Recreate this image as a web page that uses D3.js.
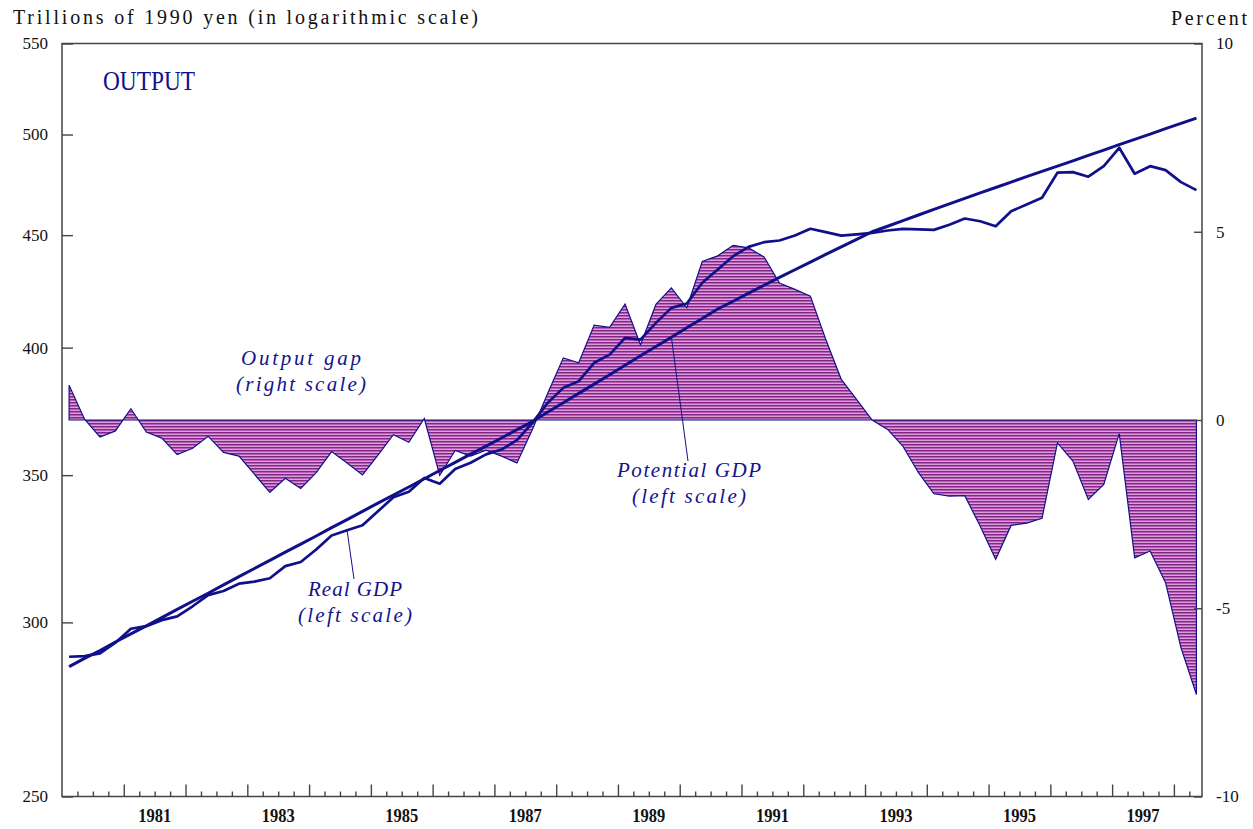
<!DOCTYPE html>
<html>
<head>
<meta charset="utf-8">
<script src="https://cdn.jsdelivr.net/npm/d3@7"></script>
<style>
  body { margin: 0; background: #fff; }
  svg { display: block; }
  text { font-family: "Liberation Serif", "DejaVu Serif", serif; }
  .axis text { font-size: 17px; fill: #111; }
  .axis line { stroke: #444; stroke-width: 1.4; }
  .years text { font-size: 19px; font-weight: bold; fill: #111; }
  .note { fill: #14148c; font-style: italic; font-size: 21px; }
</style>
</head>
<body>
<svg id="chart" width="1253" height="829"></svg>
<script>
// quarterly, 1980Q1 .. 1998Q2
const startYear = 1980;

const outputGap = [
  0.92, 0.02, -0.45, -0.29, 0.30, -0.32, -0.48, -0.92, -0.75, -0.43,
  -0.86, -0.96, -1.44, -1.92, -1.55, -1.82, -1.40, -0.84, -1.14, -1.46,
  -0.93, -0.39, -0.59, 0.04, -1.47, -0.81, -0.96, -0.80, -0.96, -1.14,
  -0.25, 0.72, 1.65, 1.52, 2.52, 2.46, 3.08, 2.00, 3.07, 3.51,
  2.98, 4.21, 4.36, 4.64, 4.57, 4.33, 3.64, 3.47, 3.29, 2.14,
  1.08, 0.54, 0.00, -0.25, -0.70, -1.40, -1.96, -2.02, -2.01, -2.82,
  -3.70, -2.80, -2.74, -2.61, -0.61, -1.09, -2.11, -1.71, -0.36, -3.66,
  -3.48, -4.32, -6.05, -7.29
];

const realGdp = [
  289.4, 289.6, 290.4, 293.7, 298.0, 298.8, 300.7, 301.9, 305.1, 308.7,
  310.0, 312.4, 313.1, 314.2, 318.2, 319.6, 323.8, 328.6, 330.4, 332.1,
  337.0, 342.0, 344.0, 349.0, 346.9, 352.3, 354.6, 357.7, 359.5, 363.1,
  369.7, 377.6, 383.5, 386.2, 393.7, 397.1, 404.1, 403.4, 410.5, 417.0,
  418.9, 428.1, 434.1, 440.2, 444.5, 446.7, 447.5, 449.8, 453.0, 451.4,
  449.8, 450.4, 451.1, 452.2, 453.0, 452.7, 452.5, 454.9, 457.9, 456.6,
  454.2, 461.4, 464.7, 468.0, 480.4, 480.7, 478.4, 483.7, 493.1, 479.9,
  483.7, 481.7, 475.7, 471.7
];

const potentialGdp = [
  286.4, 288.9, 291.3, 293.9, 296.4, 298.9, 301.5, 304.1, 306.7, 309.3,
  312.0, 314.7, 317.4, 320.1, 322.9, 325.6, 328.4, 331.3, 334.1, 337.0,
  339.9, 342.8, 345.7, 348.7, 351.7, 354.7, 357.8, 360.8, 363.9, 367.1,
  370.2, 373.9, 377.6, 381.3, 385.0, 388.8, 392.7, 396.6, 400.5, 404.4,
  408.4, 412.4, 416.5, 419.9, 423.5, 427.0, 430.5, 434.0, 437.5, 441.0,
  444.5, 448.0, 451.6, 454.2, 456.9, 459.6, 462.3, 465.0, 467.7, 470.4,
  473.0, 475.7, 478.4, 481.1, 483.7, 486.4, 489.2, 491.9, 494.7, 497.5,
  500.2, 503.1, 505.9, 508.7
];

const leftTicks = [250, 300, 350, 400, 450, 500, 550];
const rightTicks = [-10, -5, 0, 5, 10];
const yearLabels = [1981, 1983, 1985, 1987, 1989, 1991, 1993, 1995, 1997];

const navy = '#10108a';

const svg = d3.select('#chart');

const x = d3.scaleLinear().domain([1980, 1998.455]).range([62, 1202]);
const yLeft = d3.scaleLog().domain([250, 550]).range([796.5, 43.5]);
const yRight = d3.scaleLinear().domain([-10, 10]).range([796.5, 43.5]);

const timeOf = i => startYear + 0.115 + i / 4;

const defs = svg.append('defs');
const hatch = defs.append('pattern')
    .attr('id', 'hatch')
    .attr('width', 8)
    .attr('height', 3)
    .attr('patternUnits', 'userSpaceOnUse');
hatch.append('rect').attr('width', 8).attr('height', 3).attr('fill', '#d6a2d6');
hatch.append('rect').attr('y', 0).attr('width', 8).attr('height', 1).attr('fill', '#86248a');
hatch.append('rect').attr('y', 1).attr('width', 8).attr('height', 1).attr('fill', '#b55eb5');

// output gap area
const gapArea = d3.area()
    .x((d, i) => x(timeOf(i)))
    .y0(yRight(0))
    .y1(d => yRight(d));

svg.append('path')
    .datum(outputGap)
    .attr('d', gapArea)
    .attr('fill', 'url(#hatch)')
    .attr('stroke', navy)
    .attr('stroke-width', 1.2)
    .attr('stroke-linejoin', 'miter');

// gdp lines
const gdpLine = d3.line()
    .x((d, i) => x(timeOf(i)))
    .y(d => yLeft(d));

[[potentialGdp, 3], [realGdp, 2.7]].forEach(([series, w]) => {
    svg.append('path')
        .datum(series)
        .attr('d', gdpLine)
        .attr('fill', 'none')
        .attr('stroke', navy)
        .attr('stroke-width', w)
        .attr('stroke-linejoin', 'round');
});

// frame
svg.append('rect')
    .attr('x', x.range()[0])
    .attr('y', yLeft.range()[1])
    .attr('width', x.range()[1] - x.range()[0])
    .attr('height', yLeft.range()[0] - yLeft.range()[1])
    .attr('fill', 'none')
    .attr('stroke', '#444')
    .attr('stroke-width', 1.5);

svg.append('g')
    .attr('class', 'axis')
    .attr('transform', `translate(${x.range()[0]},0)`)
    .call(d3.axisLeft(yLeft).tickValues(leftTicks).tickFormat(d => d).tickSize(-11).tickPadding(14));

svg.append('g')
    .attr('class', 'axis')
    .attr('transform', `translate(${x.range()[1]},0)`)
    .call(d3.axisRight(yRight).tickValues(rightTicks).tickFormat(d => String(d)).tickSize(-8).tickPadding(14));

const quarterTicks = d3.range(1980.25, 1998.3, 0.25).filter(t => Math.abs(t - Math.round(t)) > 0.01);
const yearTicks = d3.range(1981, 1999);

svg.append('g')
    .attr('class', 'axis')
    .attr('transform', `translate(0,${yLeft.range()[0]})`)
    .call(d3.axisBottom(x).tickValues(quarterTicks).tickFormat('').tickSize(-5));

svg.append('g')
    .attr('class', 'axis')
    .attr('transform', `translate(0,${yLeft.range()[0]})`)
    .call(d3.axisBottom(x).tickValues(yearTicks).tickFormat('').tickSize(-12));

svg.selectAll('.axis .domain').remove();

svg.append('g')
    .attr('class', 'years')
    .selectAll('text')
    .data(yearLabels)
    .enter()
    .append('text')
    .attr('x', d => x(d + 0.5) - 16.5)
    .attr('y', 822)
    .attr('textLength', 33)
    .attr('lengthAdjust', 'spacingAndGlyphs')
    .text(d => d);

// titles
svg.append('text')
    .attr('x', 13)
    .attr('y', 24)
    .attr('font-size', 20)
    .attr('fill', '#111')
    .attr('textLength', 465)
    .attr('lengthAdjust', 'spacing')
    .text('Trillions of 1990 yen (in logarithmic scale)');

svg.append('text')
    .attr('x', 1171)
    .attr('y', 25)
    .attr('font-size', 20)
    .attr('fill', '#111')
    .attr('textLength', 76)
    .attr('lengthAdjust', 'spacing')
    .text('Percent');

svg.append('text')
    .attr('x', 103)
    .attr('y', 90)
    .attr('font-size', 27)
    .attr('fill', navy)
    .attr('textLength', 92)
    .attr('lengthAdjust', 'spacingAndGlyphs')
    .text('OUTPUT');

// annotations
const notes = [
    {lines: ['Output gap', '(right scale)'], cx: 301, y: 365, widths: [120, 130]},
    {lines: ['Potential GDP', '(left scale)'], cx: 689, y: 477, widths: [144, 114]},
    {lines: ['Real GDP', '(left scale)'], cx: 355, y: 596, widths: [94, 114]}
];

notes.forEach(n => {
    n.lines.forEach((line, k) => {
        svg.append('text')
            .attr('class', 'note')
            .attr('x', n.cx - n.widths[k] / 2)
            .attr('y', n.y + k * 26)
            .attr('textLength', n.widths[k])
            .attr('lengthAdjust', 'spacing')
            .text(line);
    });
});

// leader lines from the series to their labels
const leaders = [
    {series: potentialGdp, i: 39, to: [688, 461]},
    {series: realGdp, i: 18, to: [354, 579]}
];

leaders.forEach(l => {
    svg.append('line')
        .attr('x1', x(timeOf(l.i)))
        .attr('y1', yLeft(l.series[l.i]))
        .attr('x2', l.to[0])
        .attr('y2', l.to[1])
        .attr('stroke', navy)
        .attr('stroke-width', 1);
});
</script>
</body>
</html>
